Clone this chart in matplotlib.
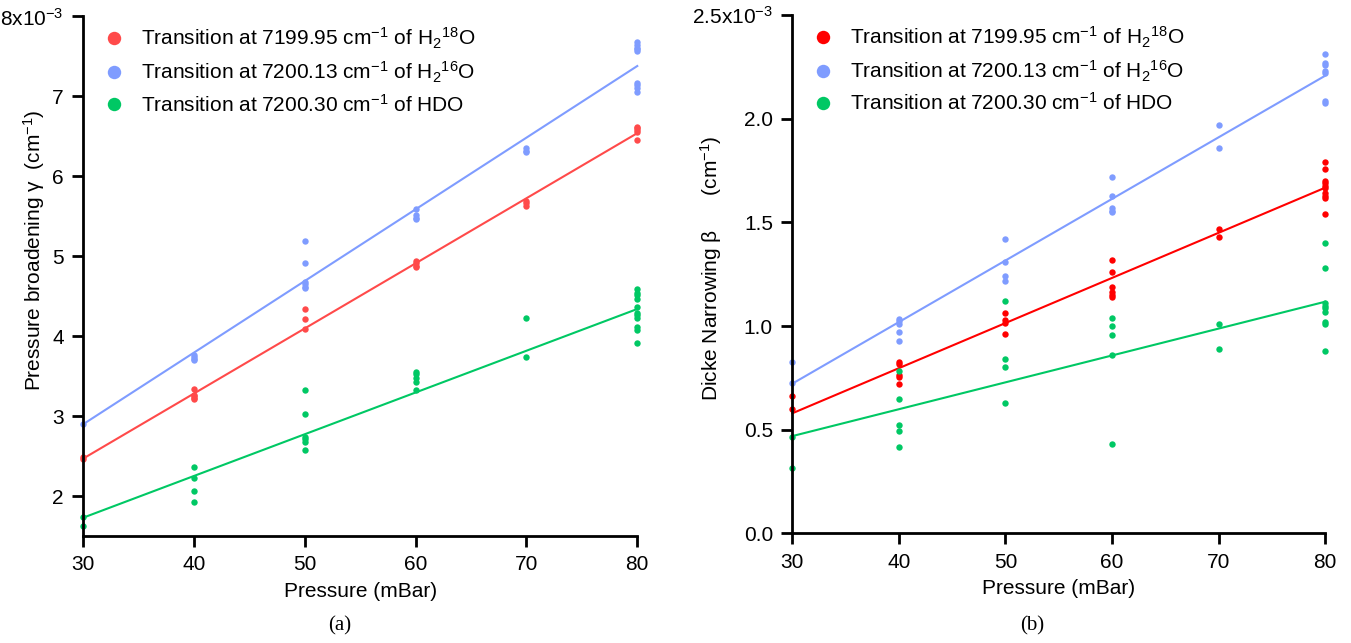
import matplotlib
matplotlib.use('Agg')
import matplotlib.pyplot as plt

plt.rcParams['font.family'] = ['Liberation Sans', 'DejaVu Sans']
plt.rcParams['mathtext.fontset'] = 'custom'
plt.rcParams['mathtext.rm'] = 'Liberation Sans'
plt.rcParams['mathtext.it'] = 'Liberation Sans:italic'
plt.rcParams['mathtext.bf'] = 'Liberation Sans:bold'

# pressures (mBar) and values in units of 1e-3 cm^-1
# (a) pressure broadening gamma
ga_h218o_p = [30, 30, 40, 40, 40, 40, 40, 50, 50, 50, 60, 60, 60, 60, 70, 70, 70,
              80, 80, 80, 80, 80]
ga_h218o = [2.49, 2.46, 3.34, 3.27, 3.25, 3.23, 3.21, 4.34, 4.21, 4.09, 4.94, 4.92,
            4.88, 4.86, 5.69, 5.66, 5.63, 6.62, 6.60, 6.58, 6.56, 6.46]
ga_h216o_p = [30, 40, 40, 40, 40, 50, 50, 50, 50, 50, 50, 60, 60, 60, 60, 70, 70, 70,
              80, 80, 80, 80, 80, 80, 80, 80, 80]
ga_h216o = [2.90, 3.76, 3.74, 3.72, 3.70, 5.19, 4.91, 4.68, 4.65, 4.62, 4.60, 5.59,
            5.51, 5.48, 5.46, 6.35, 6.32, 6.30, 7.68, 7.64, 7.61, 7.59, 7.57, 7.17,
            7.14, 7.10, 7.05]
ga_hdo_p = [30, 30, 40, 40, 40, 40, 50, 50, 50, 50, 50, 50, 60, 60, 60, 60, 60, 70, 70,
            80, 80, 80, 80, 80, 80, 80, 80, 80, 80, 80]
ga_hdo = [1.74, 1.62, 2.36, 2.22, 2.06, 1.92, 3.33, 3.03, 2.74, 2.71, 2.67, 2.57,
          3.55, 3.53, 3.48, 3.43, 3.33, 4.23, 3.74, 4.59, 4.54, 4.51, 4.47, 4.37,
          4.29, 4.26, 4.23, 4.11, 4.08, 3.91]

# (b) Dicke narrowing beta
be_h218o_p = [30, 30, 40, 40, 40, 40, 40, 50, 50, 50, 50, 60, 60, 60, 60, 60, 60, 70, 70,
              80, 80, 80, 80, 80, 80, 80, 80, 80, 80]
be_h218o = [0.66, 0.60, 0.826, 0.817, 0.764, 0.752, 0.719, 1.061, 1.029, 1.016, 0.960,
            1.318, 1.259, 1.190, 1.166, 1.150, 1.139, 1.469, 1.428, 1.790, 1.757,
            1.700, 1.688, 1.677, 1.667, 1.640, 1.629, 1.616, 1.539]
be_h216o_p = [30, 30, 40, 40, 40, 40, 40, 50, 50, 50, 50, 60, 60, 60, 60, 60, 70, 70,
              80, 80, 80, 80, 80, 80, 80]
be_h216o = [0.825, 0.725, 1.032, 1.024, 1.010, 0.970, 0.926, 1.418, 1.309, 1.241,
            1.219, 1.719, 1.629, 1.568, 1.556, 1.548, 1.968, 1.859, 2.311, 2.270,
            2.258, 2.232, 2.219, 2.087, 2.077]
be_hdo_p = [30, 30, 40, 40, 40, 40, 40, 50, 50, 50, 50, 60, 60, 60, 60, 60, 70, 70,
            80, 80, 80, 80, 80, 80, 80, 80, 80]
be_hdo = [0.466, 0.314, 0.783, 0.648, 0.522, 0.494, 0.418, 1.119, 0.842, 0.801, 0.627,
          1.039, 0.998, 0.955, 0.860, 0.429, 1.008, 0.891, 1.399, 1.280, 1.110, 1.097,
          1.085, 1.066, 1.019, 1.010, 0.881]

# linear fits (end points)
fit_p = [30, 80]
ga_fit_h218o = [2.47, 6.54]
ga_fit_h216o = [2.90, 7.38]
ga_fit_hdo = [1.73, 4.34]
be_fit_h218o = [0.579, 1.667]
be_fit_h216o = [0.722, 2.207]
be_fit_hdo = [0.469, 1.117]

labels = ['Transition at 7199.95 cm$^{-1}$ of H$_2$$^{18}$O',
          'Transition at 7200.13 cm$^{-1}$ of H$_2$$^{16}$O',
          'Transition at 7200.30 cm$^{-1}$ of HDO']
xticks = [30, 40, 50, 60, 70, 80]

fig = plt.figure(figsize=(13.51, 6.43), dpi=100)
ax1 = fig.add_axes([0.0617, 0.1664, 0.410, 0.808])
ax2 = fig.add_axes([0.5865, 0.1706, 0.3943, 0.806])

blue = '#7f9cff'
green = '#00c864'
fs = 15


def draw(ax, series, fits, colors):
    for (p, v), f, c, lab in zip(series, fits, colors, labels):
        ax.plot(fit_p, f, color=c, lw=1.5, clip_on=False)
        ax.plot(p, v, 'o', color=c, ms=4.6, mew=0, clip_on=False, label=lab)
    for s in ['top', 'right']:
        ax.spines[s].set_visible(False)
    for s in ['left', 'bottom']:
        ax.spines[s].set_linewidth(2.0)
    ax.tick_params(direction='out', length=8, width=2.0, labelsize=fs, pad=6)
    ax.set_xlim(30, 80)
    ax.set_xticks(xticks)
    ax.set_xlabel('Pressure (mBar)', fontsize=fs)
    ax.xaxis.set_label_coords(0.5, -0.088)
    ax.legend(loc='upper left', frameon=False, fontsize=fs, markerscale=2.1,
              handlelength=1.0, handletextpad=0.8, labelspacing=0.42,
              borderaxespad=0, bbox_to_anchor=(0.022, 0.998))


draw(ax1, [(ga_h218o_p, ga_h218o), (ga_h216o_p, ga_h216o), (ga_hdo_p, ga_hdo)],
     [ga_fit_h218o, ga_fit_h216o, ga_fit_hdo], ['#ff4a4a', blue, green])
ax1.set_ylim(1.5, 8)
ax1.set_yticks([2, 3, 4, 5, 6, 7, 8])
ax1.set_yticklabels(['2', '3', '4', '5', '6', '7', '8x10$^{-3}$'])
ax1.set_ylabel('Pressure broadening γ  (cm$^{-1}$)', fontsize=fs)
ax1.yaxis.set_label_coords(-0.066, 0.55)

draw(ax2, [(be_h218o_p, be_h218o), (be_h216o_p, be_h216o), (be_hdo_p, be_hdo)],
     [be_fit_h218o, be_fit_h216o, be_fit_hdo], ['#ff0000', blue, green])
ax2.set_ylim(0, 2.5)
ax2.set_yticks([0, 0.5, 1.0, 1.5, 2.0, 2.5])
ax2.set_yticklabels(['0.0', '0.5', '1.0', '1.5', '2.0', '2.5x10$^{-3}$'])
ax2.set_ylabel('Dicke Narrowing β      (cm$^{-1}$)', fontsize=fs)
ax2.yaxis.set_label_coords(-0.128, 0.512)

fig.text(340 / 1351, 1 - 626 / 643, '(a)', family='Liberation Serif', fontsize=15,
         ha='center', va='center')
fig.text(1032 / 1351, 1 - 626 / 643, '(b)', family='Liberation Serif', fontsize=15,
         ha='center', va='center')

fig.savefig('out.png', dpi=100)
